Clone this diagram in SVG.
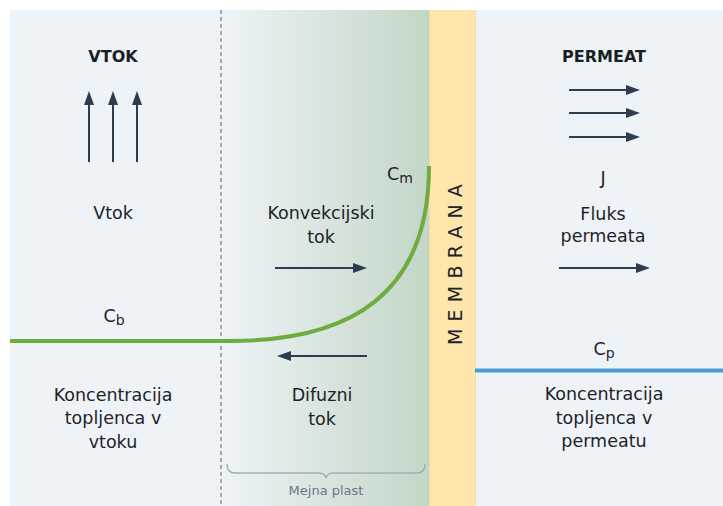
<svg xmlns="http://www.w3.org/2000/svg" width="723" height="506" viewBox="0 0 723 506">
<defs>
<linearGradient id="bl" x1="221" y1="0" x2="429" y2="0" gradientUnits="userSpaceOnUse">
<stop offset="0" stop-color="#eef3f7"/>
<stop offset="1" stop-color="#c2d7c7"/>
</linearGradient>
<marker id="ah" markerUnits="userSpaceOnUse" markerWidth="15" markerHeight="12" refX="1" refY="6" orient="auto">
<path d="M0,1 L14,6 L0,11 z" fill="#2b3d4f"/>
</marker>
</defs>
<style>
.t{font-family:"DejaVu Sans","Liberation Sans",sans-serif;font-size:17.5px;fill:#1e2328;text-anchor:middle}
.h{font-family:"DejaVu Sans","Liberation Sans",sans-serif;font-size:16px;font-weight:bold;fill:#1a1f24;text-anchor:middle}
.sub{font-size:14px}
.ar{stroke:#2b3d4f;stroke-width:2;fill:none;marker-end:url(#ah)}
.small{font-family:"DejaVu Sans","Liberation Sans",sans-serif;font-size:13px;fill:#6a7886;text-anchor:middle}
</style>
<rect x="0" y="0" width="723" height="506" fill="#ffffff"/>
<rect x="10" y="10" width="713" height="496" fill="#eef3f8"/>
<g id="boundary-layer">
<rect x="221" y="10" width="208" height="496" fill="url(#bl)"/>
<line x1="221" y1="10" x2="221" y2="506" stroke="#7d848c" stroke-width="1.3" stroke-dasharray="4,3"/>
<path d="M227,464 Q227,473 235,473 H318 Q325,473 326,478 Q327,473 334,473 H417 Q425,473 425,464" fill="none" stroke="#a4aeb8" stroke-width="1.5"/>
<text class="small" x="326" y="495">Mejna plast</text>
</g>
<g id="membrane">
<rect x="429" y="10" width="47" height="496" fill="#fde5ab"/>
<line x1="429.5" y1="10" x2="429.5" y2="506" stroke="#f2d18e" stroke-width="1" stroke-dasharray="1,1"/>
<line x1="475.5" y1="10" x2="475.5" y2="506" stroke="#f2d18e" stroke-width="1" stroke-dasharray="1,1"/>
<text transform="translate(461.5,345) rotate(-90)" x="0" y="0" font-family="DejaVu Sans, Liberation Sans, sans-serif" font-size="19" fill="#1e2328" letter-spacing="7.2">MEMBRANA</text>
</g>
<g id="connectors">
<path d="M10,341 H230 C350,341 429,295 429,166" fill="none" stroke="#6fab3e" stroke-width="4"/>
<line x1="475" y1="370.5" x2="723" y2="370.5" stroke="#4b9bd2" stroke-width="4"/>
<line class="ar" x1="89" y1="162" x2="89" y2="104"/>
<line class="ar" x1="113" y1="162" x2="113" y2="104"/>
<line class="ar" x1="137" y1="162" x2="137" y2="104"/>
<line class="ar" x1="569" y1="90" x2="627" y2="90"/>
<line class="ar" x1="569" y1="113" x2="627" y2="113"/>
<line class="ar" x1="569" y1="137" x2="627" y2="137"/>
<line class="ar" x1="275" y1="268" x2="354" y2="268"/>
<line class="ar" x1="367" y1="356" x2="290" y2="356"/>
<line class="ar" x1="559" y1="268" x2="637" y2="268"/>
</g>
<g id="feed">
<text class="h" x="113" y="62">VTOK</text>
<text class="t" x="113" y="219">Vtok</text>
<text class="t" x="114" y="322">C<tspan class="sub" dy="3">b</tspan></text>
<text class="t" x="113" y="401">Koncentracija</text>
<text class="t" x="113" y="424">topljenca v</text>
<text class="t" x="113" y="448">vtoku</text>
</g>
<g id="layer-labels">
<text class="t" x="400" y="180">C<tspan class="sub" dy="3">m</tspan></text>
<text class="t" x="321" y="219">Konvekcijski</text>
<text class="t" x="321" y="243">tok</text>
<text class="t" x="322" y="401">Difuzni</text>
<text class="t" x="322" y="425">tok</text>
</g>
<g id="permeate">
<text class="h" x="604" y="62">PERMEAT</text>
<text class="t" x="603" y="184">J</text>
<text class="t" x="603" y="220">Fluks</text>
<text class="t" x="603" y="242">permeata</text>
<text class="t" x="604" y="355">C<tspan class="sub" dy="3">p</tspan></text>
<text class="t" x="604" y="400">Koncentracija</text>
<text class="t" x="604" y="424">topljenca v</text>
<text class="t" x="604" y="447">permeatu</text>
</g>
</svg>
